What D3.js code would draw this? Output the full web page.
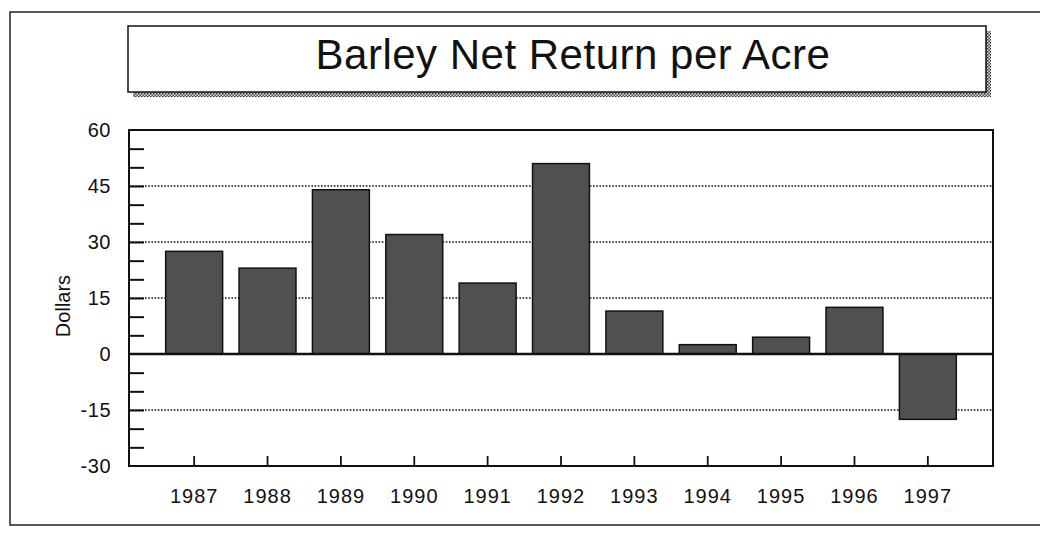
<!DOCTYPE html>
<html lang="en">
<head>
    <meta charset="UTF-8">
    <title>Barley Net Return per Acre</title>
    <script src="https://d3js.org/d3.v7.min.js"></script>
    <style>
        body { margin: 0; background: #fff; }
        svg { display: block; }
        svg text { font-family: "Liberation Sans", Arial, sans-serif; }
        .grid line { stroke: #111; stroke-width: 1.6; stroke-dasharray: 1.6,1.6; }
        .axis path, .axis line { stroke: #111; }
        .axis text { fill: #111; }
    </style>
</head>
<body>
    <div id="chart"></div>

    <script>
        // data
        const years = ["1987", "1988", "1989", "1990", "1991", "1992", "1993", "1994", "1995", "1996", "1997"];
        const netReturn = [27.5, 23, 44, 32, 19, 51, 11.5, 2.5, 4.5, 12.5, -17.5];
        const yLabelTicks = [-30, -15, 0, 15, 30, 45, 60];
        const yMinorTicks = [-25, -20, -15, -10, -5, 5, 10, 15, 20, 25, 30, 35, 40, 45, 50, 55];
        const gridValues = [-15, 15, 30, 45];

        const width = 1040;
        const height = 533;
        const plot = {left: 129, right: 993, top: 130, bottom: 466};

        const svg = d3.select("#chart")
            .append("svg")
            .attr("width", width)
            .attr("height", height);

        // hatch pattern for the title shadow
        const defs = svg.append("defs");
        const pat = defs.append("pattern")
            .attr("id", "hatch")
            .attr("width", 3)
            .attr("height", 3)
            .attr("patternUnits", "userSpaceOnUse");
        pat.append("rect").attr("width", 3).attr("height", 3).attr("fill", "#d8d8d8");
        pat.append("rect").attr("width", 1.5).attr("height", 1.5).attr("fill", "#333");
        pat.append("rect").attr("x", 1.5).attr("y", 1.5).attr("width", 1.5).attr("height", 1.5).attr("fill", "#555");

        // outer page frame (open on the right)
        svg.append("path")
            .attr("d", "M1040,12 H10 V525 H1040")
            .attr("fill", "none")
            .attr("stroke", "#222")
            .attr("stroke-width", 1.5);

        // title box with shadow
        svg.append("rect")
            .attr("x", 133).attr("y", 31)
            .attr("width", 858).attr("height", 66)
            .attr("fill", "url(#hatch)");
        svg.append("rect")
            .attr("x", 128).attr("y", 26)
            .attr("width", 858).attr("height", 66)
            .attr("fill", "#fff")
            .attr("stroke", "#111")
            .attr("stroke-width", 1.5);
        svg.append("text")
            .attr("x", 573)
            .attr("y", 69)
            .attr("text-anchor", "middle")
            .style("font-size", "42px")
            .style("letter-spacing", "0.5px")
            .attr("fill", "#111")
            .text("Barley Net Return per Acre");

        // scales
        const x = d3.scaleBand()
            .domain(years)
            .range([plot.left, plot.right])
            .paddingInner(0.224)
            .paddingOuter(0.5);

        const y = d3.scaleLinear()
            .domain([-30, 60])
            .range([plot.bottom, plot.top]);

        // dotted gridlines
        svg.append("g")
            .attr("class", "grid")
            .selectAll("line")
            .data(gridValues)
            .join("line")
            .attr("x1", plot.left)
            .attr("x2", plot.right)
            .attr("y1", d => y(d))
            .attr("y2", d => y(d));

        // bars
        svg.append("g")
            .selectAll("rect")
            .data(netReturn)
            .join("rect")
            .attr("x", (d, i) => x(years[i]))
            .attr("width", x.bandwidth())
            .attr("y", d => y(Math.max(0, d)))
            .attr("height", d => Math.abs(y(d) - y(0)))
            .attr("fill", "#505050")
            .attr("stroke", "#111")
            .attr("stroke-width", 1.5);

        // zero line
        svg.append("line")
            .attr("x1", plot.left)
            .attr("x2", plot.right)
            .attr("y1", y(0))
            .attr("y2", y(0))
            .attr("stroke", "#111")
            .attr("stroke-width", 2.5);

        // y axis: minor ticks pointing inward, labels every 15
        svg.append("g")
            .attr("class", "axis")
            .attr("transform", `translate(${plot.left},0)`)
            .call(d3.axisLeft(y).tickValues(yMinorTicks).tickSizeInner(-15).tickSizeOuter(0).tickFormat(""))
            .call(g => g.select(".domain").remove())
            .call(g => g.selectAll("line").attr("stroke-width", 2));

        svg.append("g")
            .attr("class", "axis")
            .attr("transform", `translate(${plot.left},0)`)
            .call(d3.axisLeft(y).tickValues(yLabelTicks).tickSize(0).tickPadding(18).tickFormat(d => String(d)))
            .call(g => g.select(".domain").remove())
            .call(g => g.selectAll("text").style("font-size", "20px").style("letter-spacing", "0.5px"));

        // x axis: short inward ticks, year labels
        svg.append("g")
            .attr("class", "axis")
            .attr("transform", `translate(0,${plot.bottom})`)
            .call(d3.axisBottom(x).tickSizeInner(-10).tickSizeOuter(0).tickPadding(23))
            .call(g => g.select(".domain").remove())
            .call(g => g.selectAll("line").attr("stroke-width", 1.8))
            .call(g => g.selectAll("text").style("font-size", "20px").style("letter-spacing", "1px"));

        // plot frame
        svg.append("rect")
            .attr("x", plot.left)
            .attr("y", plot.top)
            .attr("width", plot.right - plot.left)
            .attr("height", plot.bottom - plot.top)
            .attr("fill", "none")
            .attr("stroke", "#111")
            .attr("stroke-width", 2);

        // y axis title
        svg.append("text")
            .attr("transform", "translate(70,306) rotate(-90)")
            .attr("text-anchor", "middle")
            .style("font-size", "20px")
            .attr("fill", "#111")
            .text("Dollars");
    </script>
</body>
</html>
